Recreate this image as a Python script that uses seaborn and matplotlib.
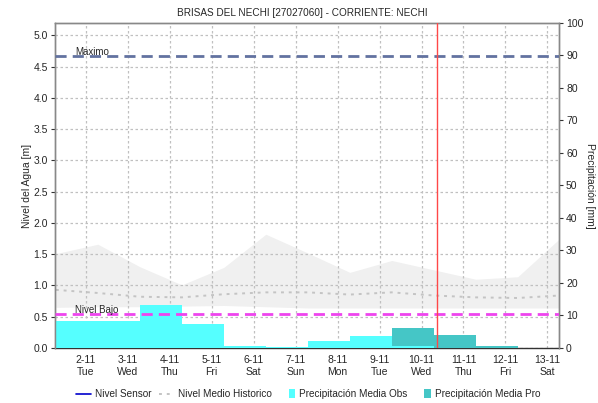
import matplotlib
matplotlib.use("Agg")
import matplotlib.pyplot as plt
import matplotlib.dates as mdates
from matplotlib.lines import Line2D
from matplotlib.patches import Patch, Rectangle
from matplotlib.legend_handler import HandlerPatch
import numpy as np
import pandas as pd
import seaborn as sns

# ---- data -------------------------------------------------------------
title = "BRISAS DEL NECHI [27027060] - CORRIENTE: NECHI"

# hydrological days start at 07:00
day_starts = ["2021-11-01 07:00", "2021-11-02 07:00", "2021-11-03 07:00",
              "2021-11-04 07:00", "2021-11-05 07:00", "2021-11-06 07:00",
              "2021-11-07 07:00", "2021-11-08 07:00", "2021-11-09 07:00",
              "2021-11-10 07:00", "2021-11-11 07:00", "2021-11-12 07:00"]
precip_obs = [8.4, 8.4, 13.2, 7.5, 0.7, 0.4, 2.2, 3.8, 0.6, 0.0, 0.0, 0.0]   # mm
precip_pro = [0.0, 0.0, 0.0, 0.0, 0.0, 0.0, 0.0, 0.0, 6.2, 4.0, 0.7, 0.0]    # mm

hist_times = ["2021-11-01 07:00", "2021-11-02 07:00", "2021-11-03 07:00",
              "2021-11-04 07:00", "2021-11-05 07:00", "2021-11-06 07:00",
              "2021-11-07 07:00", "2021-11-08 07:00", "2021-11-09 07:00",
              "2021-11-10 07:00", "2021-11-11 07:00", "2021-11-12 07:00",
              "2021-11-13 07:00"]
hist_upper = [1.51, 1.66, 1.30, 1.01, 1.29, 1.82, 1.52, 1.21, 1.40, 1.25, 1.10, 1.14, 1.75]
hist_lower = [0.65, 0.66, 0.66, 0.67, 0.68, 0.66, 0.64, 0.64, 0.64, 0.64, 0.64, 0.64, 0.64]
hist_mean = [0.93, 0.88, 0.82, 0.81, 0.86, 0.89, 0.89, 0.855, 0.89, 0.84, 0.81, 0.80, 0.84]

nivel_maximo = 4.67
nivel_bajo = 0.54
now_time = "2021-11-10 08:55"

tick_dates = ["2021-11-02", "2021-11-03", "2021-11-04", "2021-11-05",
              "2021-11-06", "2021-11-07", "2021-11-08", "2021-11-09",
              "2021-11-10", "2021-11-11", "2021-11-12", "2021-11-13"]
tick_labels = ["2-11\nTue", "3-11\nWed", "4-11\nThu", "5-11\nFri",
               "6-11\nSat", "7-11\nSun", "8-11\nMon", "9-11\nTue",
               "10-11\nWed", "11-11\nThu", "12-11\nFri", "13-11\nSat"]

x_start, x_end = "2021-11-01 06:30", "2021-11-13 06:40"

# ---- style ------------------------------------------------------------
sns.set_style("white")
plt.rcParams["font.family"] = ["Liberation Sans", "DejaVu Sans"]
plt.rcParams["font.size"] = 7.5

hist = pd.DataFrame({"t": pd.to_datetime(hist_times), "upper": hist_upper,
                     "lower": hist_lower, "mean": hist_mean})
rain = pd.DataFrame({"start": pd.to_datetime(day_starts), "obs": precip_obs,
                     "pro": precip_pro})

fig = plt.figure(figsize=(5.98, 4.03), dpi=100)
ax = fig.add_axes([0.092, 0.1365, 0.843, 0.8065])
ax2 = ax.twinx()

# historical envelope and mean
ax.fill_between(hist["t"], hist["lower"], hist["upper"], color="#f0f0f0",
                lw=0, zorder=0.5)
sns.lineplot(data=hist, x="t", y="mean", ax=ax, color="#c4c4c4", lw=1.4,
             linestyle=(0, (1.5, 2.5)), zorder=1.5)

# precipitation bars (right axis)
width = pd.Timedelta(days=1)
ax2.bar(rain["start"], rain["pro"], width=width, align="edge",
        color="#45c6c6", lw=0, zorder=1)
ax2.bar(rain["start"], rain["obs"], width=width, align="edge",
        color="#55ffff", lw=0, zorder=2)

# reference levels, drawn above the bars
xl = pd.to_datetime([x_start, x_end])
ax2.plot(xl, [nivel_maximo] * 2, transform=ax.transData, color="#6272a0",
         lw=2, linestyle=(0, (4, 2.2)), zorder=4)
ax2.plot(xl, [nivel_bajo] * 2, transform=ax.transData, color="#ee44ee",
         lw=2, linestyle=(0, (4, 2.2)), zorder=4)
label_x = pd.Timestamp("2021-11-01 18:00")
ax2.text(label_x, nivel_maximo - 0.02, "Maximo",
         transform=ax.transData, fontsize=7, va="bottom", ha="left", zorder=5)
ax2.text(label_x, nivel_bajo - 0.02, "Nivel Bajo",
         transform=ax.transData, fontsize=7, va="bottom", ha="left", zorder=5)
ax2.axvline(pd.Timestamp(now_time), color="#ff4848", lw=1, zorder=5)

# axes ranges / ticks
ax.set_xlim(xl[0], xl[1])
ax.set_ylim(0, 5.2)
ax2.set_ylim(0, 100)
ax.set_yticks(np.arange(0, 5.01, 0.5))
ax.yaxis.set_major_formatter(matplotlib.ticker.FormatStrFormatter("%.1f"))
ax2.set_yticks(np.arange(0, 101, 10))
ax.set_xticks(pd.to_datetime(tick_dates))
ax.set_xticklabels(tick_labels, linespacing=1.25)
ax.xaxis.set_minor_locator(mdates.HourLocator(byhour=range(0, 24, 2)))

ax.grid(True, which="major", color="#c0c0c0", lw=0.9, linestyle=(0, (2, 2)))
ax.set_axisbelow(True)

ax.tick_params(axis="y", length=3, width=0.8, color="#333333", pad=2, labelsize=7.5)
ax2.tick_params(axis="y", length=3, width=0.8, color="#333333", pad=2, labelsize=7.5)
ax.tick_params(axis="x", which="major", length=2, color="#333333", pad=3, labelsize=7.5)
ax.tick_params(axis="x", which="minor", length=1.5, width=0.8, color="#333333")

for a in (ax, ax2):
    for s in ("left", "right", "top"):
        a.spines[s].set_color("#888888")
        a.spines[s].set_linewidth(1)
ax2.spines["bottom"].set_visible(False)
ax.spines["bottom"].set_color("#333333")
ax.spines["bottom"].set_linewidth(1)
ax.spines["bottom"].set_linestyle((0, (1, 1)))

ax.set_ylabel("Nivel del Agua [m]", fontsize=7.5, labelpad=1)
ax2.set_ylabel("Precipitación [mm]", fontsize=7.5, rotation=270, labelpad=8)
ax.set_xlabel("")
fig.suptitle(title, fontsize=7.2, x=0.505, y=0.98)


def narrow_box(legend, orig_handle, xdescent, ydescent, width, height, fontsize):
    w = 0.45 * width
    return Rectangle((width - w - xdescent, -ydescent - 0.15 * height), w, 1.3 * height)


handles = [Line2D([], [], color="#0000cc", lw=1.2),
           Line2D([], [], color="#c4c4c4", lw=1.4, linestyle=(0, (1.5, 2.5))),
           Patch(facecolor="#55ffff", lw=0),
           Patch(facecolor="#45c6c6", lw=0)]
labels = ["Nivel Sensor", "Nivel Medio Historico",
          "Precipitación Media Obs", "Precipitación Media Pro"]
fig.legend(handles, labels, loc="lower center", bbox_to_anchor=(0.515, -0.013),
           ncol=4, frameon=False, fontsize=7.2, handlelength=1.5,
           columnspacing=0.8, handletextpad=0.4,
           handler_map={Patch: HandlerPatch(patch_func=narrow_box)})

fig.savefig("out.png", dpi=100)
